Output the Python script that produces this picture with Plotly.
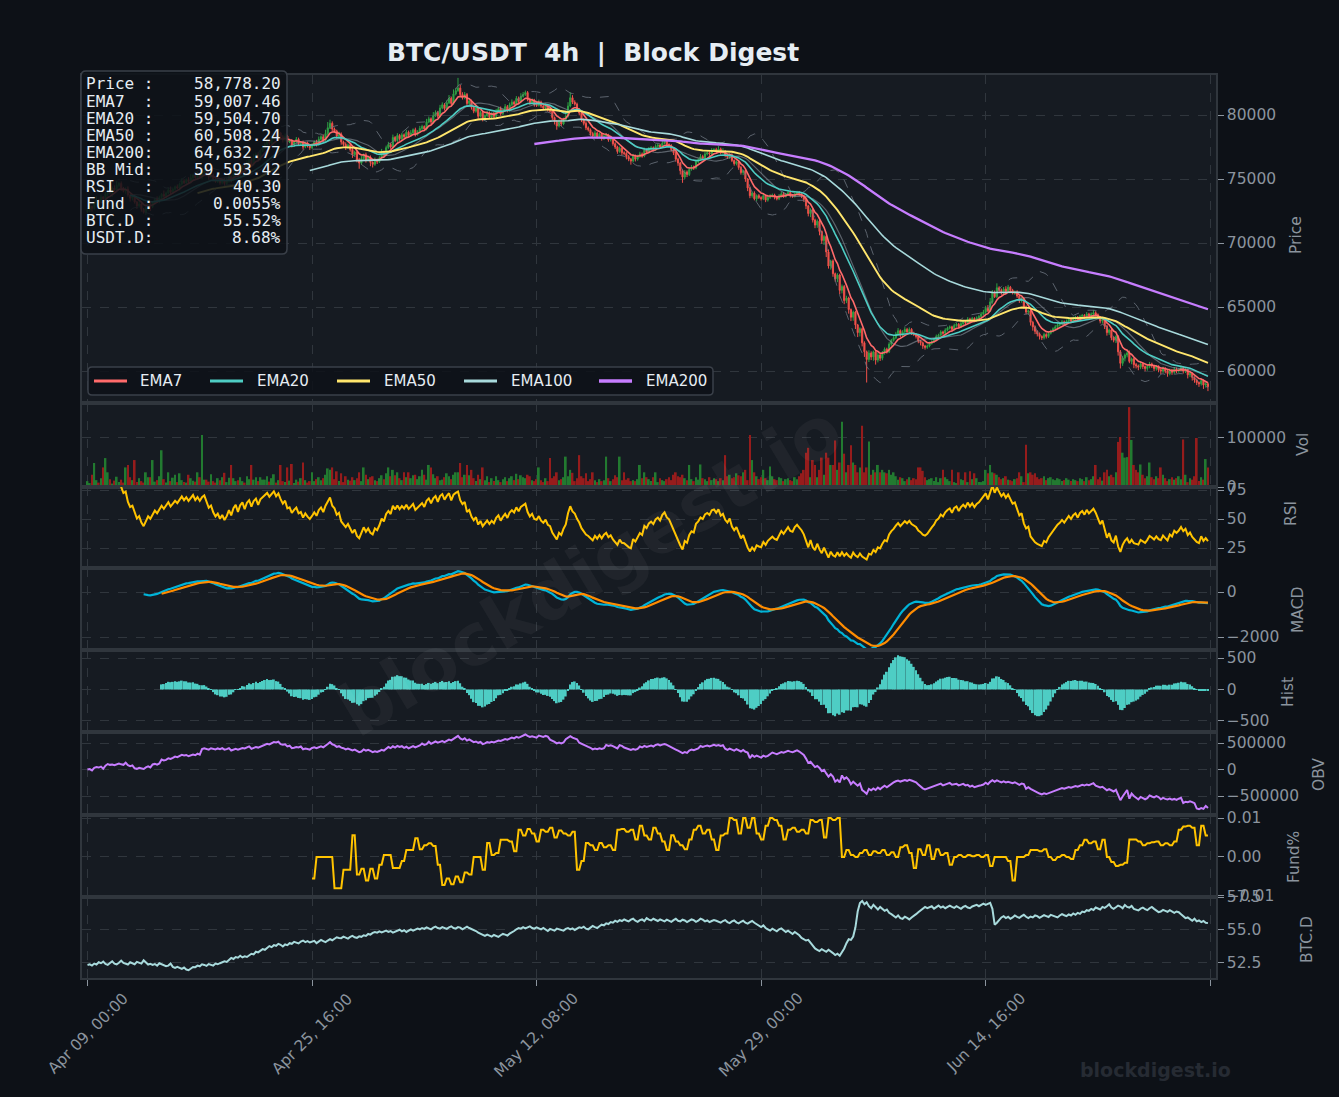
import numpy as np
import pandas as pd
import plotly.graph_objects as go
from plotly.subplots import make_subplots

# ---------------- data (4h candles) ----------------
START = "2024-04-09 00:00"
first_open = 72450

close = [
    72600, 72850, 72700, 73100, 73350, 73200, 73600, 73450, 73850, 74100, 73900, 74300, 74150, 74500, 74650, 74300, 74050, 74200, 73750, 73500,
    73600, 73200, 72900, 73050, 72650, 72400, 72700, 73000, 72850, 73150, 73400, 73250, 73550, 73800, 73650, 73900, 74150, 73950, 74200, 74400,
    74300, 74600, 74850, 74700, 74950, 74800, 75100, 75300, 75100, 75350, 75200, 75500, 75650, 75400, 75150, 75300, 75000, 74800, 74950, 74700,
    74900, 74650, 74850, 75200, 74950, 75400, 75650, 75300, 75800, 76050, 75700, 76250, 76500, 76150, 76700, 76950, 76600, 77200, 77450, 77700,
    78000, 77800, 78200, 78500, 78250, 78600, 78300, 78050, 78350, 77900, 78000, 77650, 77900, 78100, 77750, 77850, 77500, 77800, 77600, 77450,
    77650, 77900, 77700, 78100, 78300, 78050, 78550, 79000, 79350, 78900, 78750, 78350, 78500, 77900, 77700, 77450, 77650, 77300, 76900, 77100,
    76500, 76250, 76600, 76900, 76500, 76700, 76300, 76150, 76500, 76350, 76650, 77100, 76900, 77450, 77700, 77500, 78250, 78000, 78400, 78150,
    78450, 78300, 78650, 78400, 78600, 78850, 78500, 78700, 78950, 79100, 78900, 79450, 79700, 79450, 79950, 80200, 79900, 80550, 80800, 80500,
    80950, 81300, 80900, 81650, 81900, 82100, 81600, 81350, 81600, 80900, 81100, 80600, 80300, 80550, 79900, 80200, 79700, 79950, 80150, 79850,
    80100, 79900, 80300, 80500, 80100, 80400, 80650, 80350, 80800, 81000, 80850, 81300, 81050, 81450, 81600, 81750, 81250, 80950, 81150, 80800,
    80750, 81000, 80700, 80550, 80750, 80400, 80300, 79800, 79500, 79150, 79500, 79300, 79650, 79900, 80700, 81350, 81000, 80850, 80450, 80150,
    79650, 79350, 79000, 78850, 78550, 78350, 78600, 78300, 78500, 78150, 78350, 78450, 78050, 78150, 77750, 77500, 77150, 77400, 77050, 77000,
    76750, 76550, 76400, 76800, 76550, 76750, 76950, 76800, 77250, 77100, 77350, 77450, 77300, 77550, 77650, 77500, 77800, 77950, 77700, 77600,
    77300, 77050, 76550, 76250, 75650, 75150, 75550, 75350, 75750, 75950, 75850, 76350, 76500, 76750, 76650, 76950, 77050, 76950, 77250, 77300,
    77150, 77350, 77050, 77150, 76850, 76700, 76900, 76450, 76200, 76350, 75900, 75500, 75650, 75000, 74300, 73700, 73900, 73450, 73700, 73550,
    73450, 73700, 73350, 73550, 73650, 73750, 73550, 73450, 73650, 73850, 73650, 73800, 73950, 73700, 73650, 73850, 73950, 73800, 73650, 73400,
    72900, 72300, 72600, 71800, 71400, 71700, 70900, 70200, 70500, 69300, 68200, 68600, 67600, 67200, 67500, 66300, 66600, 65500, 65700, 64800,
    64200, 64600, 63600, 63000, 63300, 62200, 61500, 60900, 61400, 61100, 61500, 60850, 61250, 61000, 61400, 61700, 61500, 62100, 62400, 62600,
    62900, 63150, 62800, 63050, 63250, 63050, 63250, 62950, 62850, 62700, 62350, 62200, 61950, 61850, 61950, 62150, 62300, 62450, 62700, 62800,
    63050, 62950, 63200, 63350, 63450, 63250, 63550, 63650, 63450, 63700, 63850, 63750, 64050, 63900, 64100, 63950, 64150, 64250, 64450, 64600,
    64900, 64700, 65400, 66100, 65800, 66500, 66300, 66100, 66400, 66200, 66550, 66300, 66100, 66200, 65850, 65500, 65650, 65000, 64600, 64700,
    63800, 63450, 63100, 62900, 62700, 62600, 62850, 62700, 62950, 63100, 63300, 63450, 63600, 63700, 63850, 63700, 63900, 64050, 63900, 64100,
    64200, 64000, 64250, 64350, 64200, 64450, 64300, 64450, 64550, 64400, 64200, 63900, 64050, 63500, 63000, 63200, 62600, 62400, 62700, 61500,
    60600, 61000, 61250, 61400, 60750, 60950, 60500, 60400, 60300, 60550, 60350, 60200, 60350, 60550, 60400, 60200, 60350, 60100, 60000, 60200,
    60000, 59800, 60050, 59900, 60150, 60000, 60100, 60250, 60000, 60100, 59700, 59800, 59500, 59300, 59100, 59000, 59250, 58900, 59000, 58778.2,
]

# wick lengths in units of $10
upper_wick = [
    15,22,8,12,30,10,18,6,14,25,9,12,20,35,11,16,8,14,22,10,
    12,18,9,25,14,8,16,11,20,13,9,24,15,10,30,12,18,26,14,9,
    17,11,22,14,9,19,28,12,15,20,10,14,25,11,16,9,13,21,18,12,
    10,16,24,12,8,20,15,11,17,9,13,22,10,18,26,12,15,9,19,14,
    11,18,9,23,12,15,8,14,20,10,16,12,9,18,13,11,15,8,12,10,
    14,9,16,22,12,18,30,45,28,15,12,10,20,14,9,16,11,13,18,10,
    12,15,20,9,16,11,14,8,18,10,13,25,12,16,20,14,22,10,18,12,
    15,11,19,13,22,10,16,12,20,14,9,25,18,11,28,16,12,24,19,13,
    20,26,14,35,22,80,25,18,20,12,16,10,14,11,9,15,12,10,17,13,
    11,14,18,12,16,10,20,13,17,22,12,18,14,25,20,16,12,10,15,11,
    14,20,12,10,16,9,13,11,8,12,16,10,14,18,30,42,20,15,12,10,
    13,9,16,11,10,14,18,9,12,10,15,13,8,11,9,12,10,14,9,11,
    10,12,9,16,11,14,18,12,20,10,15,13,9,16,12,10,18,14,11,9,
    12,10,8,11,9,10,15,12,18,14,10,16,12,20,14,18,12,10,16,11,
    14,22,10,25,12,10,9,11,8,10,9,12,8,10,7,9,12,14,10,12,
    10,14,9,12,16,11,10,9,18,15,12,10,14,9,11,16,12,10,9,8,
    10,8,12,9,11,14,10,8,12,9,20,10,12,9,14,10,16,12,18,10,
    9,12,10,8,11,9,12,10,22,14,9,12,18,10,16,14,12,15,11,13,
    16,20,10,14,18,12,16,10,12,9,11,8,10,9,12,14,10,12,15,11,
    13,10,14,12,11,9,15,12,10,14,12,10,16,11,13,10,12,14,16,18,
    20,25,30,22,18,35,12,14,16,22,18,10,12,9,11,8,10,9,12,10,
    9,12,10,8,11,9,14,10,12,13,11,14,12,10,13,9,12,14,10,15,
    12,10,14,11,9,16,10,13,22,12,10,9,8,11,10,12,9,10,8,11,
    14,18,12,16,20,10,9,12,10,15,11,9,14,16,10,9,12,10,11,14,
    10,9,14,11,16,12,10,18,9,12,8,11,10,9,10,8,14,9,12,10,
]
lower_wick = [
    12,18,25,10,15,22,9,28,14,20,11,30,12,9,16,24,10,20,14,26,
    18,12,24,14,20,10,22,16,35,12,15,10,14,18,9,12,10,14,11,16,
    10,20,12,9,16,11,14,18,10,12,15,22,10,14,20,12,18,9,11,15,
    12,18,10,14,22,9,11,16,14,20,10,12,15,9,11,14,10,16,9,12,
    10,16,12,9,18,11,15,20,12,22,10,18,12,9,16,11,20,10,14,18,
    12,10,16,9,11,14,10,12,9,18,14,20,12,22,16,18,10,16,25,12,
    20,45,14,10,22,12,30,25,12,18,10,9,16,11,10,14,9,12,10,16,
    11,14,10,16,12,9,18,11,10,12,15,10,9,16,11,10,14,9,10,15,
    10,9,16,10,12,9,18,14,12,20,11,18,16,12,22,10,20,14,10,16,
    12,18,10,9,16,11,10,14,9,10,15,9,14,10,9,11,18,14,10,15,
    12,10,14,16,11,14,12,20,24,30,12,16,10,9,11,10,14,12,16,18,
    20,16,18,14,16,12,10,14,11,16,10,9,14,12,15,16,18,10,20,14,
    22,16,28,10,18,12,9,14,10,12,9,11,14,10,9,12,10,9,14,12,
    14,18,20,22,30,45,16,20,12,10,14,9,11,10,12,9,11,14,10,12,
    12,10,14,11,15,12,14,13,16,14,18,16,20,22,25,20,16,12,18,11,
    14,10,16,12,10,9,14,12,10,9,12,10,9,14,12,10,9,12,14,18,
    25,22,28,20,24,22,30,26,35,40,20,28,24,22,26,30,24,28,20,32,
    30,28,32,35,30,28,40,180,20,25,30,35,18,22,16,12,14,10,12,10,
    12,9,16,11,10,12,9,14,12,16,18,20,22,18,12,10,9,11,10,12,
    10,12,9,11,10,14,9,10,12,9,10,12,9,11,10,12,9,10,11,9,
    12,10,9,14,10,12,16,14,10,12,9,14,12,15,14,18,16,14,18,20,
    25,30,22,20,24,18,14,16,12,10,9,11,10,12,9,14,10,9,12,10,
    10,14,9,11,12,10,12,9,10,12,14,18,20,22,24,18,20,16,22,30,
    40,20,25,18,14,22,28,20,24,16,20,22,18,14,16,22,18,20,24,16,
    18,25,14,20,12,16,14,12,20,16,28,18,25,22,20,24,14,30,20,35,
]

# volume in thousands
volume_k = [
    12,8,25,49,14,9,18,40,59,30,16,7,13,21,10,15,9,40,45,20,
    14,55,10,18,12,9,30,20,20,55,11,14,22,75,16,9,30,12,19,25,
    10,28,14,10,9,25,18,13,11,30,20,106,15,15,11,26,12,9,18,14,
    20,29,10,19,45,18,12,14,20,12,9,22,16,45,15,20,12,20,15,15,
    22,11,18,26,9,14,45,12,10,40,13,47,8,15,11,18,50,14,9,12,
    30,12,16,20,14,18,25,38,35,40,16,32,12,28,10,22,15,13,20,14,
    18,30,12,40,25,16,20,22,14,12,18,24,16,28,40,22,35,24,30,18,
    14,30,20,30,18,24,25,16,22,35,25,15,45,40,26,18,22,14,15,20,
    28,22,16,25,30,30,49,20,25,45,24,35,18,12,25,16,40,14,22,10,
    18,12,22,14,10,16,20,12,18,22,14,27,16,24,20,18,25,22,14,12,
    16,40,14,10,18,12,59,18,22,30,14,16,20,62,22,35,29,12,18,65,
    22,18,28,12,16,30,14,10,16,12,14,62,18,12,16,24,20,62,14,30,
    15,18,12,14,12,16,45,18,30,20,16,12,20,30,10,18,14,12,16,20,
    14,25,30,22,20,25,18,14,45,16,12,20,15,46,18,16,12,20,14,18,
    16,12,18,14,65,22,25,18,20,28,24,22,30,35,14,106,55,30,22,16,
    20,35,18,14,42,22,16,14,20,18,12,16,18,14,12,20,16,22,28,35,
    70,80,20,55,45,20,35,60,25,70,60,45,45,95,35,50,133,68,30,45,
    85,50,45,30,40,125,30,40,93,25,35,30,45,30,35,30,28,35,25,30,
    22,15,20,18,12,16,20,14,18,16,40,40,33,20,14,16,18,12,20,10,
    18,35,20,16,12,35,10,8,30,16,14,30,10,32,16,28,18,10,10,12,
    35,28,45,30,28,25,20,16,18,22,15,14,12,16,18,30,22,10,86,28,
    30,25,28,20,16,18,22,14,18,20,16,14,18,16,12,14,18,15,12,16,
    14,12,18,16,12,20,14,16,22,45,16,20,13,30,35,22,25,20,30,92,
    102,70,60,61,163,96,45,35,30,46,25,18,22,50,20,16,22,18,40,25,
    18,12,16,20,15,18,22,16,97,25,10,18,15,22,100,12,20,15,57,40,
]

# funding rate, one value per 8h from candle 100 on, in units of 0.0001 %
FUND_START = 100
funding_8h = [
    -55, 0, 0, 0, 0, -80, -80, -33, -33, 56,
    -45, -30, -60, -30, -55, -20, 5, 5, -28, -28,
    -10, 18, 18, 48, 20, 30, 35, 28, -20, -72,
    -55, -70, -50, -65, -40, -45, 0, 0, -33, 36,
    5, 10, 44, 44, 40, 15, 70, 55, 72, 60,
    40, 70, 65, 75, 50, 68, 60, 55, 65, -33,
    -10, 36, 30, 18, 36, 25, 30, 18, 70, 72,
    65, 70, 45, 80, 55, 45, 75, 60, 40, 18,
    56, 40, 30, 20, 45, 70, 80, 60, 70, 45,
    18, 55, 60, 100, 95, 60, 100, 75, 100, 60,
    45, 80, 100, 95, 80, 45, 70, 75, 65, 70,
    60, 95, 90, 95, 50, 100, 95, 100, 0, 18,
    5, 0, 10, 18, 5, 15, 10, 18, 5, 12,
    0, 25, 30, 10, -28, 20, 5, 30, -5, 20,
    5, 10, -20, 0, 5, 0, 5, 2, 5, 0,
    5, -23, 0, 0, 0, -10, -60, 0, 0, 5,
    18, 18, 15, 20, 0, -8, 0, 5, 0, -5,
    18, 30, 44, 35, 40, 20, 44, 0, -13, -23,
    -20, -15, 45, 45, 40, 30, 35, 38, 40, 30,
    35, 30, 40, 70, 78, 80, 75, 30, 80, 55,
]

# BTC dominance, %
btc_dom = [
    52.35,52.40,52.30,52.45,52.38,52.55,52.48,52.60,52.42,52.35,52.50,52.62,52.45,52.40,52.52,52.68,52.50,52.44,52.38,52.55,
    52.48,52.40,52.58,52.52,52.45,52.70,52.50,52.38,52.44,52.35,52.42,52.30,52.48,52.40,52.36,52.25,52.30,52.45,52.20,52.12,
    52.20,52.10,52.05,52.15,52.00,51.95,52.10,52.20,52.18,52.30,52.25,52.40,52.35,52.28,52.42,52.38,52.30,52.45,52.40,52.48,
    52.55,52.62,52.58,52.75,52.88,52.80,52.95,52.90,53.05,52.92,53.00,52.95,53.10,53.20,53.15,53.35,53.30,53.45,53.55,53.50,
    53.65,53.78,53.70,53.85,53.80,53.95,53.88,53.75,53.90,53.85,54.00,53.95,54.10,54.05,53.98,54.12,54.20,54.08,54.15,54.05,
    54.10,54.18,54.00,54.12,54.25,54.15,54.08,54.20,54.30,54.22,54.35,54.45,54.40,54.38,54.50,54.42,54.35,54.48,54.55,54.45,
    54.40,54.52,54.48,54.60,54.55,54.70,54.65,54.78,54.85,54.80,54.90,54.82,54.88,54.95,54.85,54.92,54.80,54.88,54.95,55.02,
    54.90,54.98,54.85,54.92,55.05,54.95,55.00,55.10,55.05,55.15,55.08,55.20,55.12,55.05,55.18,55.25,55.15,55.10,55.22,55.15,
    55.08,55.20,55.28,55.15,55.10,55.22,55.18,55.05,55.12,55.25,55.15,55.08,55.00,54.92,54.80,54.70,54.62,54.55,54.65,54.58,
    54.50,54.62,54.55,54.48,54.60,54.70,54.65,54.58,54.72,54.80,54.92,55.05,55.15,55.10,55.22,55.12,55.20,55.28,55.15,55.10,
    55.20,55.12,55.05,55.15,55.00,54.92,55.08,55.02,54.95,55.10,55.05,55.00,54.95,55.08,55.15,55.05,55.12,55.00,55.10,55.20,
    55.15,55.25,55.10,55.05,55.18,55.30,55.22,55.15,55.28,55.40,55.35,55.50,55.45,55.60,55.55,55.70,55.62,55.75,55.68,55.80,
    55.72,55.65,55.78,55.85,55.70,55.62,55.75,55.80,55.68,55.90,55.78,55.72,55.85,55.75,55.68,55.80,55.72,55.65,55.78,55.70,
    55.62,55.75,55.85,55.70,55.65,55.78,55.72,55.60,55.68,55.80,55.75,55.62,55.70,55.85,55.78,55.65,55.72,55.60,55.68,55.75,
    55.70,55.62,55.55,55.68,55.75,55.60,55.52,55.65,55.72,55.58,55.50,55.62,55.70,55.55,55.48,55.60,55.68,55.55,55.42,55.30,
    55.22,55.35,55.15,55.05,54.95,55.10,55.00,54.90,55.05,55.12,54.98,54.85,54.95,54.80,54.70,54.85,54.75,54.60,54.40,54.30,
    54.20,54.25,54.05,53.85,53.60,53.50,53.40,53.55,53.45,53.35,53.50,53.40,53.25,53.10,53.20,53.05,53.30,53.60,54.00,54.30,
    54.25,54.50,55.20,56.40,57.05,57.20,56.95,57.10,56.80,56.65,56.90,56.70,56.55,56.75,56.60,56.45,56.55,56.30,56.20,56.05,
    55.95,56.10,55.90,55.85,56.00,55.92,55.80,55.95,56.05,56.20,56.35,56.50,56.60,56.75,56.65,56.70,56.80,56.62,56.72,56.85,
    56.70,56.78,56.65,56.72,56.85,56.75,56.68,56.80,56.72,56.60,56.75,56.82,56.70,56.65,56.78,56.85,56.90,56.80,56.92,57.00,
    56.90,56.95,57.05,56.60,55.40,55.55,55.80,55.95,56.05,55.90,56.00,55.85,55.95,56.10,56.00,55.92,56.05,56.15,56.00,55.90,
    56.02,55.95,56.10,56.05,55.92,56.00,56.12,56.05,55.98,56.15,56.08,56.00,55.95,56.10,56.20,56.12,56.05,56.18,56.10,56.25,
    56.15,56.30,56.22,56.40,56.35,56.50,56.45,56.60,56.52,56.70,56.62,56.55,56.75,56.68,56.80,56.95,56.70,56.60,56.72,56.85,
    56.78,56.65,56.90,56.75,56.70,56.82,56.60,56.55,56.48,56.62,56.70,56.58,56.50,56.65,56.75,56.60,56.48,56.35,56.40,56.52,
    56.45,56.38,56.50,56.42,56.30,56.40,56.35,56.20,56.05,55.90,55.95,55.80,55.70,55.85,55.65,55.72,55.60,55.68,55.55,55.52,
]

tick_idx = [0, 100, 200, 300, 400, 500]

info_labels = ["Price :", "EMA7  :", "EMA20 :", "EMA50 :", "EMA200:",
               "BB Mid:", "RSI   :", "Fund  :", "BTC.D :", "USDT.D:"]
info_values = ["58,778.20", "59,007.46", "59,504.70", "60,508.24", "64,632.77",
               "59,593.42", "40.30", "0.0055%", "55.52%", "8.68%"]

N = len(close)
for nm, arr in [("upper_wick", upper_wick), ("lower_wick", lower_wick),
                ("volume_k", volume_k), ("btc_dom", btc_dom)]:
    if len(arr) != N:
        raise ValueError(f"{nm} has {len(arr)} values, expected {N}")

# ---------------- derived series (indicators) ----------------
c = pd.Series(close, dtype=float)
o = pd.Series([first_open] + close[:-1], dtype=float)
h = np.maximum(o, c) + np.array(upper_wick) * 10
l = np.minimum(o, c) - np.array(lower_wick) * 10
vol = np.array(volume_k, dtype=float) * 1000


def ema(s, n):
    e = s.ewm(span=n, adjust=False).mean()
    e[: n - 1] = np.nan
    return e


ema_periods = [7, 20, 50, 100, 200]
emas = {n: ema(c, n) for n in ema_periods}

bb_mid = c.rolling(20).mean()
bb_std = c.rolling(20).std(ddof=0)
bb_up = bb_mid + 2 * bb_std
bb_lo = bb_mid - 2 * bb_std

d = c.diff()
gain = d.clip(lower=0)
loss = -d.clip(upper=0)
ag = gain.ewm(alpha=1 / 14, min_periods=14, adjust=False).mean()
al = loss.ewm(alpha=1 / 14, min_periods=14, adjust=False).mean()
rsi = 100 - 100 / (1 + ag / al)

macd = c.ewm(span=12, adjust=False).mean() - c.ewm(span=26, adjust=False).mean()
macd[:25] = np.nan
signal = macd.ewm(span=9, adjust=False, ignore_na=True).mean()
signal[:33] = np.nan
hist = macd - signal

obv = np.cumsum(np.sign(d.fillna(0).values) * vol)

fund = np.full(N, np.nan)
fund_ff = np.repeat(np.array(funding_8h, dtype=float) / 1e4, 2)
fund[FUND_START:FUND_START + len(fund_ff)] = fund_ff[: N - FUND_START]

dates = pd.date_range(START, periods=N + 1, freq="4h")
tick_text = [dates[i].strftime("%b %d, %H:%M") if i < N else "" for i in tick_idx]

# ---------------- styling ----------------
BG = "#0d1117"
PANEL = "#161b22"
GRID = "#30363d"
BORDER = "#30363d"
TICKC = "#8b949e"
TXT = "#e6edf3"
GREEN = "#2ea043"
RED = "#f0514a"
VGREEN = "rgb(34,122,48)"
VRED = "rgb(150,28,28)"
EMA_COLORS = {7: "#ff6b6b", 20: "#4ecdc4", 50: "#ffe66d", 100: "#a8dadc", 200: "#c77dff"}
EMA_WIDTH = {7: 1.6, 20: 1.6, 50: 1.9, 100: 1.6, 200: 2.3}

W, H = 1339, 1097
L, R, T, B = 82, 1216, 75, 978


def px(xp):
    return (xp - L) / (R - L)


def py(yp):
    return (B - yp) / (B - T)


x = np.arange(N)
fig = make_subplots(rows=8, cols=1, shared_xaxes=True, vertical_spacing=0,
                    row_heights=[328, 84, 81, 82, 82, 83, 82, 81])

# Bollinger bands
fig.add_trace(go.Scatter(x=x, y=bb_up, mode="lines", line=dict(color="#6e7681", width=1, dash="dash"),
                         opacity=0.8, showlegend=False, hoverinfo="skip"), row=1, col=1)
fig.add_trace(go.Scatter(x=x, y=bb_lo, mode="lines", line=dict(color="#6e7681", width=1, dash="dash"),
                         opacity=0.8, showlegend=False, hoverinfo="skip"), row=1, col=1)
fig.add_trace(go.Scatter(x=x, y=bb_mid, mode="lines", line=dict(color="#8b949e", width=1.2),
                         opacity=0.6, showlegend=False, hoverinfo="skip"), row=1, col=1)

fig.add_trace(go.Candlestick(x=x, open=o, high=h, low=l, close=c,
                             increasing=dict(line=dict(color=GREEN, width=1), fillcolor=GREEN),
                             decreasing=dict(line=dict(color=RED, width=1), fillcolor=RED),
                             whiskerwidth=0, showlegend=False, hoverinfo="skip"), row=1, col=1)

for n in ema_periods:
    fig.add_trace(go.Scatter(x=x, y=emas[n], mode="lines", name=f"EMA{n}", showlegend=False,
                             line=dict(color=EMA_COLORS[n], width=EMA_WIDTH[n])), row=1, col=1)

vcolors = [VGREEN if cc >= oo else VRED for cc, oo in zip(c, o)]
fig.add_trace(go.Bar(x=x, y=vol, marker=dict(color=vcolors, line=dict(width=0)),
                     showlegend=False, hoverinfo="skip"), row=2, col=1)

fig.add_trace(go.Scatter(x=x, y=rsi, mode="lines", line=dict(color="#ffc300", width=2),
                         showlegend=False), row=3, col=1)

fig.add_trace(go.Scatter(x=x, y=macd, mode="lines", line=dict(color="#00b4d8", width=2.2),
                         showlegend=False), row=4, col=1)
fig.add_trace(go.Scatter(x=x, y=signal, mode="lines", line=dict(color="#ff8c00", width=2.2),
                         showlegend=False), row=4, col=1)

fig.add_trace(go.Bar(x=x, y=hist, marker=dict(color="#4ecdc4", line=dict(width=0)),
                     showlegend=False, hoverinfo="skip"), row=5, col=1)

fig.add_trace(go.Scatter(x=x, y=obv, mode="lines", line=dict(color="#c77dff", width=2),
                         showlegend=False), row=6, col=1)

fig.add_trace(go.Scatter(x=x, y=fund, mode="lines", line=dict(color="#ffc300", width=2),
                         showlegend=False), row=7, col=1)

fig.add_trace(go.Scatter(x=x, y=btc_dom, mode="lines", line=dict(color="#a8dadc", width=2),
                         showlegend=False), row=8, col=1)

# axes
tickfont = dict(family="DejaVu Sans", size=15.5, color=TICKC)
XRANGE = [-2.45, 502.58]
for r in range(1, 9):
    fig.update_xaxes(row=r, col=1, range=XRANGE, tickmode="array", tickvals=tick_idx,
                     ticktext=tick_text, showgrid=True, gridcolor=GRID, griddash="dash", gridwidth=1,
                     showline=True, linecolor=BORDER, linewidth=1.5, mirror=True, zeroline=False,
                     showticklabels=False, ticks="outside" if r == 8 else "", ticklen=6,
                     tickcolor=TICKC, automargin=False, fixedrange=True)

yspec = {
    1: ([57500, 83125], [60000, 65000, 70000, 75000, 80000], ["60000", "65000", "70000", "75000", "80000"]),
    2: ([0, 171400], [0, 100000], ["0", "100000"]),
    3: ([7.8, 77.6], [25, 50, 75], ["25", "50", "75"]),
    4: ([-2578, 1067], [-2000, 0], ["\u22122000", "0"]),
    5: ([-675, 627], [-500, 0, 500], ["\u2212500", "0", "500"]),
    6: ([-858000, 708000], [-500000, 0, 500000], ["\u2212500000", "0", "500000"]),
    7: ([-0.01026, 0.01077], [-0.01, 0.0, 0.01], ["\u22120.01", "0.00", "0.01"]),
    8: ([51.36, 57.5], [52.5, 55.0, 57.5], ["52.5", "55.0", "57.5"]),
}
for r, (rng, tv, tt) in yspec.items():
    fig.update_yaxes(row=r, col=1, range=rng, tickmode="array", tickvals=tv, ticktext=tt,
                     side="right", showgrid=True, gridcolor=GRID, griddash="dash", gridwidth=1,
                     showline=True, linecolor=BORDER, linewidth=1.5, mirror=True, zeroline=False,
                     ticks="outside", ticklen=6, tickcolor=TICKC, tickfont=tickfont,
                     automargin=False, fixedrange=True)

ann = []
# x tick labels (rotated, centred under each tick)
for i, t in zip(tick_idx, tick_text):
    if t:
        ann.append(dict(text=t, x=i, xref="x8", y=py(987), yref="paper", showarrow=False,
                        textangle=-45, xanchor="center", yanchor="top",
                        font=dict(family="DejaVu Sans", size=15.5, color=TICKC)))

# axis titles
for text, xc, yc in [("Price", 1296, 235), ("Vol", 1303, 445), ("RSI", 1291, 514), ("MACD", 1298, 610),
                     ("Hist", 1288, 692), ("OBV", 1319, 775), ("Fund%", 1294, 857), ("BTC.D", 1307, 940)]:
    ann.append(dict(text=text, x=px(xc), y=py(yc), xref="paper", yref="paper", showarrow=False,
                    textangle=-90, xanchor="center", yanchor="middle",
                    font=dict(family="DejaVu Sans", size=15.5, color=TICKC)))

# title
ann.append(dict(text="<b>BTC/USDT\u00a0\u00a04h\u00a0\u00a0|\u00a0\u00a0Block Digest</b>", x=px(593), y=py(52),
                xref="paper", yref="paper", showarrow=False, xanchor="center", yanchor="middle",
                font=dict(family="DejaVu Sans", size=25, color=TXT)))

# watermarks
ann.append(dict(text="<b>blockdigest.io</b>", x=px(590), y=py(570), xref="paper", yref="paper",
                showarrow=False, textangle=-31, xanchor="center", yanchor="middle",
                font=dict(family="DejaVu Sans", size=72, color="rgba(255,255,255,0.045)")))
ann.append(dict(text="<b>blockdigest.io</b>", x=px(1155), y=py(1070), xref="paper", yref="paper",
                showarrow=False, xanchor="center", yanchor="middle",
                font=dict(family="DejaVu Sans", size=19, color="#262b33")))

# info box text
for k, (lab, val) in enumerate(zip(info_labels, info_values)):
    yc = 84 + 17.1 * k
    ann.append(dict(text=lab.replace(" ", "\u00a0"), x=px(84), y=py(yc), xref="paper", yref="paper",
                    showarrow=False, xanchor="left", yanchor="middle",
                    font=dict(family="DejaVu Sans Mono", size=16, color=TXT)))
    ann.append(dict(text=val, x=px(283), y=py(yc), xref="paper", yref="paper",
                    showarrow=False, xanchor="right", yanchor="middle",
                    font=dict(family="DejaVu Sans Mono", size=16, color=TXT)))


def rounded_rect(xl, xr, yt, yb, rad=5):
    x0, x1 = px(xl), px(xr)
    y0, y1 = py(yb), py(yt)
    rx, ry = rad / (R - L), rad / (B - T)
    return (f"M {x0+rx},{y1} L {x1-rx},{y1} Q {x1},{y1} {x1},{y1-ry} L {x1},{y0+ry} "
            f"Q {x1},{y0} {x1-rx},{y0} L {x0+rx},{y0} Q {x0},{y0} {x0},{y0+ry} "
            f"L {x0},{y1-ry} Q {x0},{y1} {x0+rx},{y1} Z")


shapes = [dict(type="path", path=rounded_rect(81, 287, 71, 254), xref="paper", yref="paper", layer="above",
               fillcolor="rgba(13,17,23,0.86)", line=dict(color="#3a4049", width=1.5))]

# legend for the EMA lines (box, line samples, labels)
shapes.append(dict(type="path", path=rounded_rect(88, 713, 367, 395, 4), xref="paper", yref="paper",
                   layer="above", fillcolor="rgba(13,17,23,0.85)", line=dict(color="#3a4049", width=1.5)))
leg_line_x = [94, 210, 337, 464, 599]
leg_text_x = [138, 255, 382, 509, 644]
for n, lx, tx in zip(ema_periods, leg_line_x, leg_text_x):
    shapes.append(dict(type="line", xref="paper", yref="paper", x0=px(lx), x1=px(lx + 33),
                       y0=py(381), y1=py(381), layer="above",
                       line=dict(color=EMA_COLORS[n], width=EMA_WIDTH[n] + 1.2)))
    ann.append(dict(text=f"EMA{n}", x=px(tx), y=py(381), xref="paper", yref="paper", showarrow=False,
                    xanchor="left", yanchor="middle",
                    font=dict(family="DejaVu Sans", size=15, color=TXT)))

fig.update_layout(
    width=W, height=H, autosize=False,
    margin=dict(l=L, r=W - R, t=T, b=H - B, pad=0),
    paper_bgcolor=BG, plot_bgcolor=PANEL,
    font=dict(family="DejaVu Sans", color=TICKC),
    showlegend=False,
    bargap=0.2,
    annotations=ann,
    shapes=shapes,
    hovermode=False,
)
fig.update_xaxes(rangeslider_visible=False)

fig.write_html("out.html")
